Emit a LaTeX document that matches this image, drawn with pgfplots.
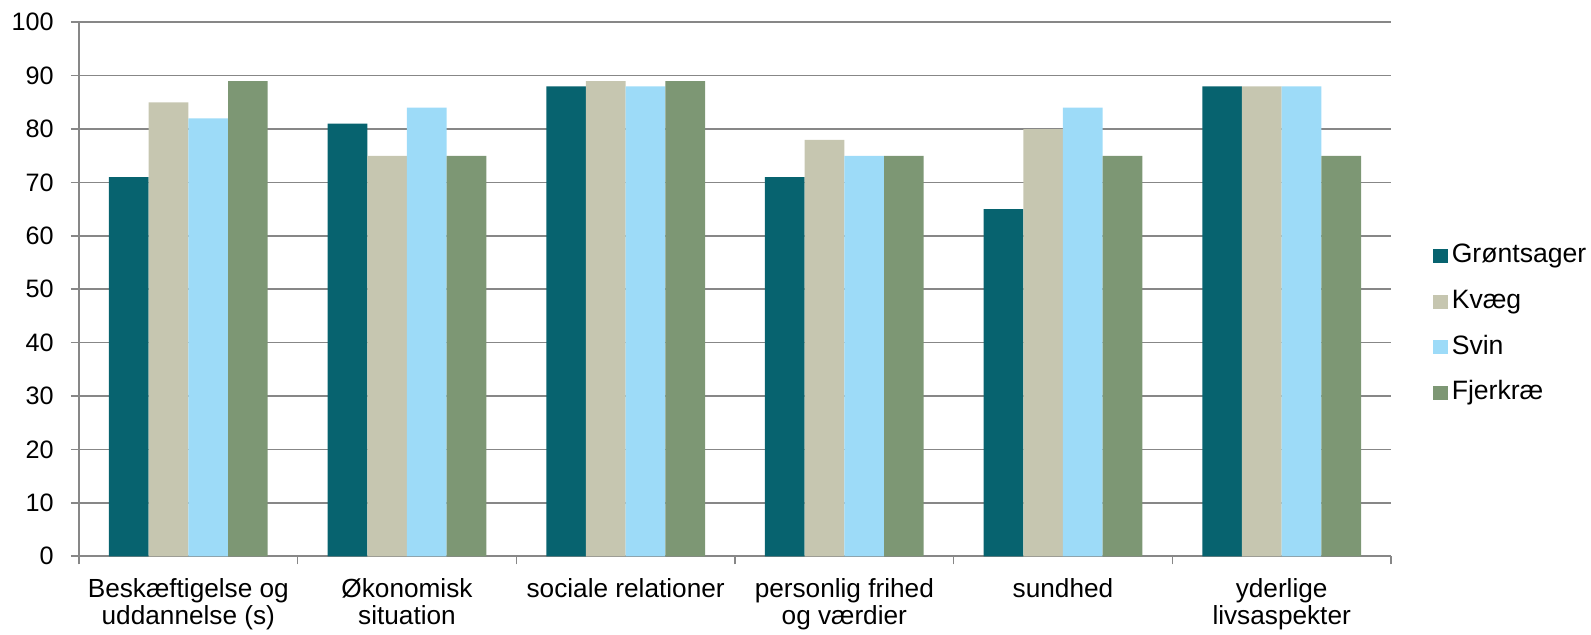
\documentclass[border=0pt]{standalone}
\usepackage{pgfplots}
\pgfplotsset{compat=1.18}
\usepackage{fontspec}
\setmainfont{Liberation Sans}
\definecolor{cG}{HTML}{07636F}
\definecolor{cK}{HTML}{C6C6B0}
\definecolor{cS}{HTML}{9DDBF8}
\definecolor{cF}{HTML}{7D9774}
\definecolor{gridc}{HTML}{878787}
\begin{document}
\begin{tikzpicture}
\useasboundingbox (-39.5pt,-39.35pt) rectangle (756pt,278.15pt);
\begin{axis}[
  at={(0,0)}, anchor=south west,
  scale only axis,
  width=656pt, height=267pt,
  ybar=0pt, bar width=19.85pt,
  xmin=-0.5, xmax=5.5,
  ymin=0, ymax=100,
  ytick={0,10,...,100},
  xtick={0,...,5},
  xticklabels={{Beskæftigelse og\\uddannelse (s)},{Økonomisk\\situation},{sociale relationer},{personlig frihed\\og værdier},{sundhed},{yderlige\\livsaspekter}},
  minor xtick={-0.5,0.5,...,5.5},
  major x tick style={draw=none},
  tick align=outside,
  major tick length=4pt, minor tick length=4pt,
  every tick/.style={gridc, line width=0.8pt},
  axis x line*=bottom, axis y line*=left,
  axis line style={gridc, line width=0.8pt, -},
  ymajorgrids, major grid style={gridc, line width=0.8pt},
  /pgf/number format/assume math mode=true,
  yticklabel style={font=\fontsize{12.6}{13.25}\selectfont, text=black, inner sep=0pt, anchor=east, xshift=-8.5pt},
  xticklabel style={font=\fontsize{13.1}{13.25}\selectfont, text=black, align=center, inner sep=0pt, anchor=north, yshift=-7pt},
  legend style={at={(1.032,0.4335)}, anchor=west, draw=none, fill=none,
    font=\fontsize{13.3}{15}\selectfont, inner sep=0pt, row sep=11.3pt, column sep=2pt,
    nodes={inner sep=0pt, text height=9pt, text depth=2.5pt, anchor=west}},
  legend cell align=left,
  legend image code/.code={\fill[#1,draw=none] (0pt,-3.4pt) rectangle (7.2pt,3.6pt);},
]
\addplot[fill=cG, draw=none] coordinates {(0,71) (1,81) (2,88) (3,71) (4,65) (5,88)};
\addplot[fill=cK, draw=none] coordinates {(0,85) (1,75) (2,89) (3,78) (4,80) (5,88)};
\addplot[fill=cS, draw=none] coordinates {(0,82) (1,84) (2,88) (3,75) (4,84) (5,88)};
\addplot[fill=cF, draw=none] coordinates {(0,89) (1,75) (2,89) (3,75) (4,75) (5,75)};
\legend{Grøntsager,Kvæg,Svin,Fjerkræ}
\end{axis}
\end{tikzpicture}
\end{document}
